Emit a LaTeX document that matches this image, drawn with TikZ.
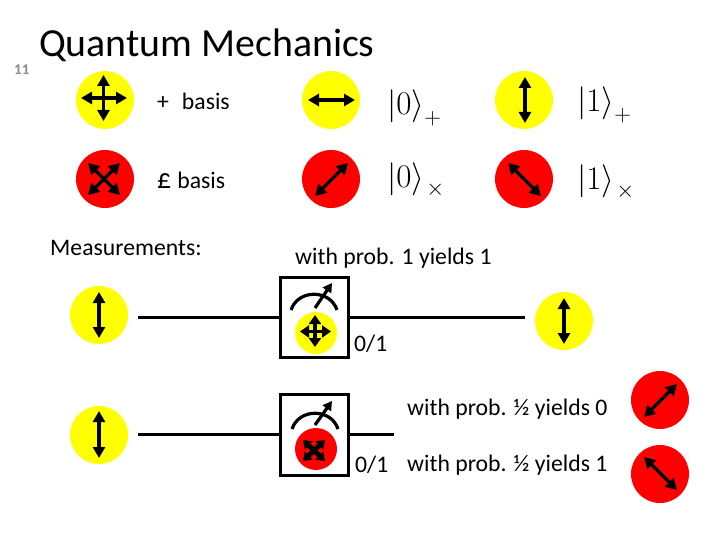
\documentclass[tikz,border=0pt]{standalone}
\usepackage{fix-cm}
\usepackage{fontspec}
\setmainfont{Carlito}
\usetikzlibrary{arrows.meta}
\definecolor{qyellow}{RGB}{255,255,0}
\definecolor{qred}{RGB}{255,0,0}
\newcommand{\kett}[3]{\fontsize{33}{33}\selectfont$|#1\rangle_{\kern#3\lower#2\hbox{$\scriptstyle\times$}}$}
\newcommand{\ketp}[2]{\fontsize{33}{33}\selectfont$|#1\rangle_{\lower#2\hbox{$\scriptstyle+$}}$}
\tikzset{
  x=1pt,y=-1pt,
  ydisc/.style={circle,fill=qyellow,minimum size=58pt,inner sep=0pt},
  rdisc/.style={circle,fill=qred,minimum size=58pt,inner sep=0pt},
  ysmall/.style={circle,fill=qyellow,minimum size=42pt,inner sep=0pt},
  rsmall/.style={circle,fill=qred,minimum size=42pt,inner sep=0pt},
  pol/.style={line width=3.3pt,{Triangle[length=11pt,width=12pt]}-{Triangle[length=11pt,width=12pt]}},
  polsm/.style={line width=3.6pt,{Triangle[length=9pt,width=12pt]}-{Triangle[length=9pt,width=12pt]}},
  polx/.style={line width=5pt,{Triangle[length=8pt,width=11pt]}-{Triangle[length=8pt,width=11pt]}},
  wire/.style={line width=3pt},
  meter/.style={draw,line width=3pt,fill=white,minimum width=68pt,inner sep=0pt},
  dial/.style={line width=3.2pt},
  needle/.style={line width=3.2pt,-{Triangle[length=9pt,width=10pt]}},
  txt/.style={anchor=base west,inner sep=0pt,font=\fontsize{23.7}{26}\selectfont},
  mathlbl/.style={anchor=base west,inner sep=0pt},
}
\begin{document}
\begin{tikzpicture}
\useasboundingbox[fill=white] (0,0) rectangle (720,540);
\node[txt,font=\fontsize{39.8}{42}\selectfont] (title) at (39,56.5) {Quantum Mechanics};
\node[txt,font=\fontsize{15}{16}\selectfont\bfseries,text=black!45] (pg) at (14,75) {11};
% basis rows
\node[ydisc] (p) at (105,100) {};
\draw[pol] (81,98) -- (127,98);
\draw[pol] (103.5,75) -- (103.5,121);
\node[rdisc] (x) at (105,179) {};
\draw[pol] (88,195) -- (120,163);
\draw[pol] (88,163) -- (120,195);
\node[txt] (pl) at (157,109.5) {+\kern 13pt basis};
\node[txt] (xl) at (157,189) {{\fontsize{28}{28}\selectfont £}\kern 6pt basis};
\node[ydisc] (p0) at (331,100) {};
\draw[pol] (308,100) -- (355,100);
\node[rdisc] (x0) at (331,179) {};
\draw[pol] (315,196) -- (348,163);
\node[ydisc] (p1) at (524,100) {};
\draw[pol] (525,77) -- (525,123);
\node[rdisc] (x1) at (524,179) {};
\draw[pol] (508,163) -- (541,196);
\node[mathlbl] (k0p) at (387,114.5) {\ketp{0}{5pt}};
\node[mathlbl] (k1p) at (577,111.5) {\ketp{1}{5pt}};
\node[mathlbl] (k0x) at (387,188) {\kett{0}{3pt}{2pt}};
\node[mathlbl] (k1x) at (577,190) {\kett{1}{3pt}{2pt}};
% measurements
\node[txt] (ms) at (50,255) {Measurements:};
\node[txt] (t1) at (295,264) {with prob. 1 yields 1};
\node[ydisc] (a) at (99,315) {};
\draw[pol] (99,292) -- (99,338);
\node[ydisc] (b) at (99,435) {};
\draw[pol] (99,411) -- (99,458);
\node[ydisc] (c) at (564,321) {};
\draw[pol] (564,298) -- (564,344);
\node[rdisc] (d) at (660,400) {};
\draw[pol] (644,417) -- (677,384);
\node[rdisc] (e) at (660,474) {};
\draw[pol] (644,457) -- (677,490);
\node[meter,minimum height=80pt] (m1) at (314,317) {};
\node[meter,minimum height=81pt] (m2) at (314,434.5) {};
\coordinate (a1) at (138,317);
\coordinate (a2) at (525,317);
\coordinate (b1) at (138,434.5);
\coordinate (b2) at (394,434.5);
\draw[wire] (a1) -- (m1.west);
\draw[wire] (m1.east) -- (a2);
\draw[wire] (b1) -- (m2.west);
\draw[wire] (m2.east) -- (b2);
% meter 1
\draw[dial] (291,310) .. controls (298,289) and (330,289) .. (337,310);
\draw[needle] (315,308) -- (332,283);
\node[ysmall] (ms1) at (316,333) {};
\draw[polsm] (300,331.5) -- (331,331.5);
\draw[polsm] (315,315) -- (315,347);
% meter 2
\draw[dial] (292,429) .. controls (299,408) and (331,408) .. (338,429);
\draw[needle] (315,425) -- (332,401);
\node[rsmall] (ms2) at (316,449) {};
\draw[polx] (303,461) -- (325,440);
\draw[polx] (303,440) -- (325,461);
\node[txt] (o1) at (354,351) {0/1};
\node[txt] (o2) at (355,472) {0/1};
\node[txt] (t2) at (407,415) {with prob. ½ yields 0};
\node[txt] (t3) at (407,471) {with prob. ½ yields 1};
\end{tikzpicture}
\end{document}
